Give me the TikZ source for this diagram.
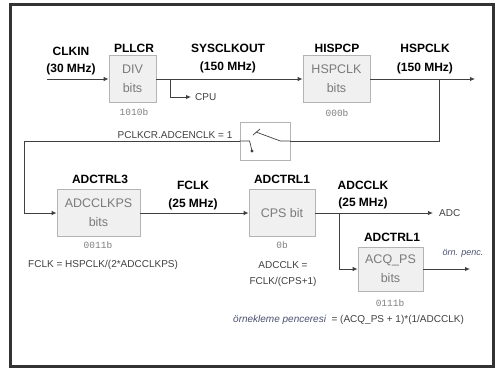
\documentclass[tikz,border=0pt]{standalone}
\usepackage{fontspec}
\setmainfont{Liberation Sans}
\newfontfamily\monofnt{Liberation Mono}
\usetikzlibrary{arrows.meta}
\definecolor{linec}{HTML}{404040}
\definecolor{boxfill}{HTML}{F0F0F0}
\definecolor{boxline}{HTML}{B4B4B4}
\definecolor{boxtext}{HTML}{7A7A7A}
\definecolor{bitc}{HTML}{808080}
\definecolor{italc}{HTML}{4A5070}
\tikzset{
  regbox/.style={draw=boxline, fill=boxfill, line width=0.8pt, inner sep=0pt,
    text=boxtext, align=center, font=\fontsize{12.5}{19}\selectfont},
  lbl/.style={font=\fontsize{12}{14}\selectfont\bfseries, text=black, inner sep=0pt},
  bitv/.style={font=\monofnt\fontsize{9.5}{11}\selectfont, text=bitc, inner sep=0pt},
  small/.style={font=\fontsize{10}{12}\selectfont, text=linec, inner sep=0pt},
  wire/.style={draw=linec, line width=0.9pt},
  swline/.style={draw=linec, line width=0.7pt},
  arr/.style={wire, -{Latex[length=5pt,width=4.5pt]}},
}
\begin{document}
\begin{tikzpicture}[x=1pt,y=-1pt]
\useasboundingbox (0,0) rectangle (498,370);
\fill[white] (0,0) rectangle (498,370);
\draw[line width=2.4pt, draw=black!80] (10.5,4.5) rectangle (493.5,366.5);

% boxes
\node[regbox, minimum width=47pt, minimum height=47pt] (pllcr) at (132.5,79) {DIV\\bits};
\node[regbox, minimum width=67pt, minimum height=47pt] (hispcp) at (336.5,79) {HSPCLK\\bits};
\node[regbox, minimum width=83pt, minimum height=47pt] (adctrl3) at (98.5,213) {ADCCLKPS\\bits};
\node[regbox, minimum width=66pt, minimum height=47pt] (adctrl1) at (282,213) {CPS bit};
\node[regbox, minimum width=65pt, minimum height=44pt] (acq) at (390.5,269) {ACQ\_PS\\bits};
\node[draw=boxline, fill=white, line width=0.8pt, minimum width=50pt, minimum height=38pt, inner sep=0pt] (sw) at (265,141) {};

% bold labels
\node[lbl] (lclkin) at (71,51) {CLKIN};
\node[lbl] (lclkinf) at (71,69) {(30 MHz)};
\node[lbl] (lpllcr) at (134,48) {PLLCR};
\node[lbl] (lsys) at (228,48) {SYSCLKOUT};
\node[lbl] (lsysf) at (228,67) {(150 MHz)};
\node[lbl] (lhispcp) at (337,48) {HISPCP};
\node[lbl] (lhsp) at (425,48) {HSPCLK};
\node[lbl] (lhspf) at (425,68) {(150 MHz)};
\node[lbl] (ladctrl3) at (100,179) {ADCTRL3};
\node[lbl] (lfclk) at (193,185) {FCLK};
\node[lbl] (lfclkf) at (193,204) {(25 MHz)};
\node[lbl] (ladctrl1) at (282,179) {ADCTRL1};
\node[lbl] (ladcclk) at (363,185) {ADCCLK};
\node[lbl] (ladcclkf) at (363,203) {(25 MHz)};
\node[lbl] (ladctrl1b) at (392,237) {ADCTRL1};

% bit values
\node[bitv] (b1) at (134,112) {1010b};
\node[bitv] (b2) at (337,113) {000b};
\node[bitv] (b3) at (98,245) {0011b};
\node[bitv] (b4) at (282,245) {0b};
\node[bitv] (b5) at (390,303) {0111b};

% coordinates
\coordinate (clkin) at (47,79);
\coordinate (cputap) at (170,79);
\coordinate (cpuend) at (191,97);
\coordinate (hspend) at (475,79);
\coordinate (hsptap) at (439,79);
\coordinate (leftc) at (24,141);
\coordinate (adcend) at (433,213);
\coordinate (acqtap) at (339,213);
\coordinate (acqend) at (470,269);
\coordinate (swdot) at (252,151);
\coordinate (swtip) at (256,132);

% connectors
\draw[arr] (clkin) -- (pllcr.west);
\draw[arr] (pllcr.east) -- (hispcp.west);
\draw[arr] (cputap) |- (cpuend);
\draw[arr] (hispcp.east) -- (hspend);
\draw[wire] (hsptap) |- (sw.east);
\draw[wire] (sw.west) -- (leftc);
\draw[arr] (leftc) |- (adctrl3.west);
\draw[arr] (adctrl3.east) -- (adctrl1.west);
\draw[arr] (adctrl1.east) -- (adcend);
\draw[arr] (acqtap) |- (acq.west);
\draw[arr] (acq.east) -- (acqend);

% switch symbol
\draw[swline] (sw.west) -- ++(10,0) -- (swdot);
\fill[linec] (swdot) circle (1.7pt);
\draw[swline] (sw.east) -- ++(-10,0) -- (swtip);
\draw[swline] ([shift={(-3,3)}]swtip) -- ++(7,-6);

% small texts
\node[small, anchor=west] (tcpu) at (195,97) {CPU};
\node[small, anchor=west] (tadc) at (439,213) {ADC};
\node[small] (tpclk) at (175,135) {PCLKCR.ADCENCLK = 1};
\node[small, anchor=west] (tfclk) at (28,265) {FCLK = HSPCLK/(2*ADCCLKPS)};
\node[small] (tadcclk1) at (283,265) {ADCCLK =};
\node[small] (tadcclk2) at (283,282) {FCLK/(CPS+1)};
\node[small, text=italc, font=\fontsize{9}{11}\selectfont\itshape] (torn) at (463,253) {örn. penc.};
\node[small, anchor=west] (tform) at (233,320) {{\color{italc}\itshape örnekleme penceresi} \ = (ACQ\_PS + 1)*(1/ADCCLK)};
\end{tikzpicture}
\end{document}
